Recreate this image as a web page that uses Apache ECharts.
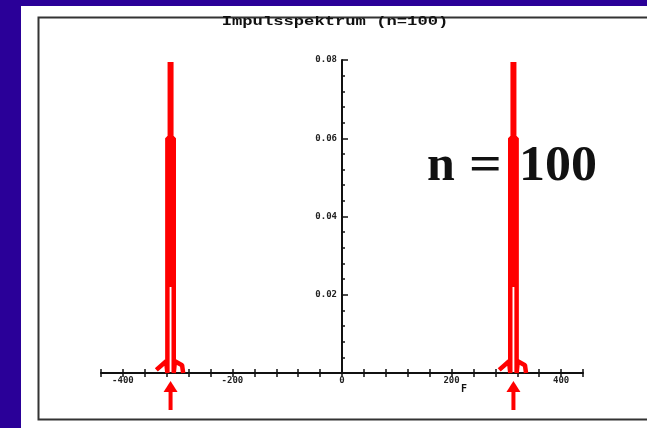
<!DOCTYPE html>
<html>
<head>
<meta charset="utf-8">
<script src="https://cdn.jsdelivr.net/npm/echarts@6/dist/echarts.min.js"></script>
<style>
  html, body { margin: 0; padding: 0; background: #2a0098; }
  #panel { position: absolute; left: 21px; top: 6px; width: 626px; height: 422px; background: #fff; }
  #chart { position: absolute; left: 0; top: 0; width: 647px; height: 428px; }
</style>
</head>
<body>
<div id="panel"></div>
<div id="chart"></div>
<script>
// spectrum data
const peakFreqs = [-313, 313];           // centre frequency of both lines
const outlineOffset = [-26, -8, -5.8, -5.8, 5.8, 5.8, 8, 21, 23];
const outlineAmp = [0.0008, 0.003, 0, 0.06, 0.06, 0, 0.003, 0.002, 0];
const stemFoot = 0.022;
const stemTop = 0.0795;
const xTicks = [-400, -200, 0, 200, 400];
const yTicks = [0.02, 0.04, 0.06, 0.08];

const red = '#ff0000';
const labelFont = { fontFamily: 'DejaVu Sans Mono', fontWeight: 'bold', fontSize: 9, color: '#222' };

let series = [];
peakFreqs.forEach(function (f) {
  series.push({
    type: 'line', symbol: 'none', silent: true,
    lineStyle: { color: red, width: 4.5 },
    data: outlineOffset.map(function (o, i) { return [f + o, outlineAmp[i]]; })
  });
  series.push({
    type: 'line', symbol: 'none', silent: true,
    lineStyle: { color: red, width: 6 },
    data: [[f, stemFoot], [f, stemTop]]
  });
});
// the red arrows under both lines
series.push({
  type: 'custom', clip: false, silent: true,
  data: peakFreqs.map(function (f) { return [f]; }),
  renderItem: function (params, api) {
    const p = api.coord([api.value(0), 0]);
    return {
      type: 'group',
      children: [
        { type: 'polygon', shape: { points: [[p[0], p[1] + 8], [p[0] - 7, p[1] + 19], [p[0] + 7, p[1] + 19]] }, style: { fill: red } },
        { type: 'rect', shape: { x: p[0] - 2, y: p[1] + 16, width: 4, height: 21 }, style: { fill: red } }
      ]
    };
  }
});

const chart = echarts.init(document.getElementById('chart'));
chart.setOption({
  animation: false,
  backgroundColor: 'transparent',
  grid: { left: 101, right: 64, top: 60, bottom: 55 },
  xAxis: [{
    type: 'value', min: -440, max: 440, interval: 40,
    splitLine: { show: false },
    axisLine: { lineStyle: { color: '#111', width: 2 } },
    axisTick: { length: 4, lineStyle: { color: '#111', width: 1.5 } },
    axisLabel: Object.assign({
      margin: 3,
      formatter: function (v) { return xTicks.indexOf(v) >= 0 ? String(v) : ''; }
    }, labelFont)
  }, {
    type: 'value', min: -440, max: 440, interval: 40, position: 'bottom',
    splitLine: { show: false },
    axisLine: { show: false },
    axisTick: { inside: true, length: 4, lineStyle: { color: '#111', width: 1.5 } },
    axisLabel: { show: false }
  }],
  yAxis: {
    type: 'value', min: 0, max: 0.08, interval: 0.02,
    position: 'left', offset: -241,
    splitLine: { show: false },
    axisLine: { onZero: false, lineStyle: { color: '#111', width: 2 } },
    axisTick: { inside: true, length: 6, lineStyle: { color: '#111', width: 1.5 } },
    minorTick: { show: true, splitNumber: 5, length: 3, lineStyle: { color: '#111', width: 1.5 } },
    axisLabel: Object.assign({
      margin: 5,
      formatter: function (v) {
        const s = v.toFixed(2);
        return yTicks.indexOf(Number(s)) >= 0 ? s : '';
      }
    }, labelFont)
  },
  graphic: [
    { type: 'rect', left: 36, top: 15, shape: { width: 610, height: 402 }, style: { fill: 'none', stroke: '#333', lineWidth: 2 }, z: -1 },
    { type: 'text', x: 335, y: 22, scaleX: 1.43, style: { text: 'Impulsspektrum (n=100)', fontFamily: 'Liberation Mono', fontWeight: 'bold', fontSize: 12, fill: '#111', textAlign: 'center', textVerticalAlign: 'middle' } },
    { type: 'text', x: 427, y: 167, style: { text: 'n', fontFamily: 'Liberation Serif', fontWeight: 'bold', fontSize: 50, fill: '#111', textAlign: 'left', textVerticalAlign: 'middle' }, z: -1 },
    { type: 'text', x: 469, y: 167, scaleX: 1.15, style: { text: '=', fontFamily: 'Liberation Serif', fontWeight: 'bold', fontSize: 50, fill: '#111', textAlign: 'left', textVerticalAlign: 'middle' }, z: -1 },
    { type: 'text', x: 519, y: 167, scaleX: 1.04, style: { text: '100', fontFamily: 'Liberation Serif', fontWeight: 'bold', fontSize: 50, fill: '#111', textAlign: 'left', textVerticalAlign: 'middle' }, z: -1 },
    { type: 'text', x: 464, y: 389, style: { text: 'F', fontFamily: 'DejaVu Sans Mono', fontWeight: 'bold', fontSize: 10, fill: '#111', textAlign: 'center', textVerticalAlign: 'middle' } }
  ],
  series: series
});
</script>
</body>
</html>
